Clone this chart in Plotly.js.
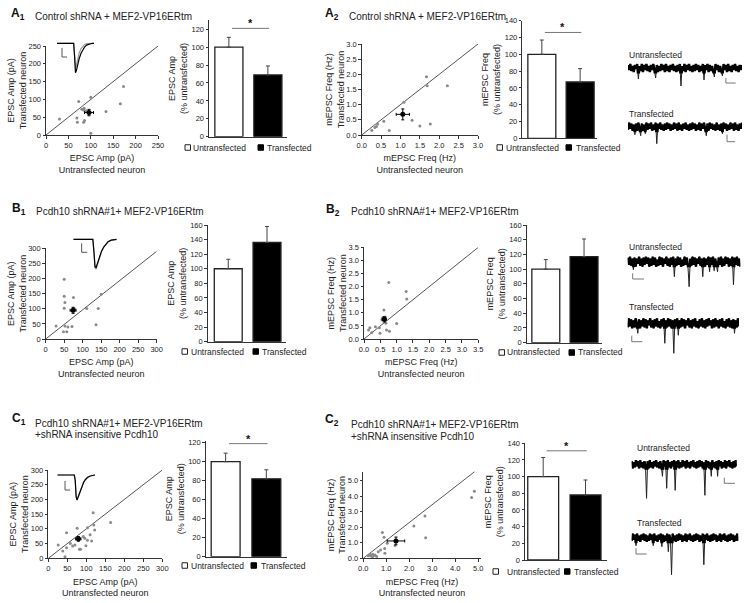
<!DOCTYPE html>
<html><head><meta charset="utf-8">
<script src="https://cdn.plot.ly/plotly-3.0.1.min.js"></script>
<style>html,body{margin:0;padding:0;background:#fff}#chart{width:751px;height:603px}</style>
</head><body><div id="chart"></div>
<script>
// ---------------- DATA ----------------
const barCats = ['Untransfected', 'Transfected'];

// Row A: Control shRNA + MEF2-VP16ERtm
const a1UntransAmp = [30, 73, 69, 70, 84, 84, 86, 80, 100, 100, 134, 166, 173, 85, 90];
const a1TransAmp   = [45, 94, 48, 36, 70, 36, 41, 72, 106, 5, 66, 88, 136, 75, 68];
const a1Mean = [96, 63], a1MeanErr = [10, 9];
const a1Diag = [[0, 250], [0, 250]];
const a1BarVals = [100, 69], a1BarErr = [11, 10], a1Sig = 121;

const a2UntransFreq = [0.26, 0.34, 0.41, 0.57, 0.71, 1.09, 1.30, 1.50, 1.67, 1.69, 1.77, 2.21, 0.38];
const a2TransFreq   = [0.16, 0.25, 0.36, 0.45, 0.15, 1.08, 0.49, 0.30, 1.92, 1.62, 0.36, 1.62, 0.28];
const a2Mean = [1.06, 0.68], a2MeanErr = [0.17, 0.18];
const a2Diag = [[0, 3], [0, 3]];
const a2BarVals = [100, 67], a2BarErr = [17, 16], a2Sig = 126;

// Row B: Pcdh10 shRNA#1 + MEF2-VP16ERtm
const b1UntransAmp = [28, 50, 50, 52, 50, 52, 48, 57, 71, 75, 77, 111, 136, 142, 150, 60];
const b1TransAmp   = [43, 198, 141, 121, 102, 43, 24, 24, 41, 137, 101, 101, 47, 101, 148, 40];
const b1Mean = [74, 95], b1MeanErr = [8, 10];
const b1Diag = [[0, 300], [0, 290]];
const b1BarVals = [100, 136], b1BarErr = [13, 22];

const b2UntransFreq = [0.14, 0.18, 0.24, 0.35, 0.47, 0.49, 0.55, 0.57, 0.61, 0.65, 0.67, 0.69, 0.76, 0.78, 1.00, 1.29, 1.31];
const b2TransFreq   = [0.34, 0.43, 0.25, 0.47, 0.43, 0.22, 0.73, 0.81, 1.11, 0.84, 0.60, 0.34, 2.16, 0.30, 0.59, 1.81, 1.53];
const b2Mean = [0.62, 0.75], b2MeanErr = [0.06, 0.10];
const b2Diag = [[0, 3.5], [0, 3.5]];
const b2BarVals = [100, 117], b2BarErr = [13, 24];

// Row C: Pcdh10 shRNA#1 + MEF2-VP16ERtm + shRNA insensitive Pcdh10
const c1UntransAmp = [26, 38, 48, 48, 44, 64, 76, 82, 85, 92, 96, 103, 99, 103, 110, 114, 118, 120, 122, 164, 58, 70];
const c1TransAmp   = [45, 25, 36, 87, 5, 42, 102, 31, 31, 74, 68, 61, 43, 104, 80, 59, 155, 113, 96, 122, 50, 45];
const c1Mean = [79, 66], c1MeanErr = [7, 8];
const c1Diag = [[0, 300], [0, 300]];
const c1BarVals = [100, 82], c1BarErr = [9, 9.5], c1Sig = 119;

const c2UntransFreq = [0.22, 0.29, 0.41, 0.51, 0.58, 0.65, 0.75, 0.83, 0.90, 0.93, 0.94, 1.04, 1.38, 2.20, 2.68, 2.71, 4.71, 4.83, 0.30, 0.35, 0.40, 0.45];
const c2TransFreq   = [0.17, 0.26, 0.26, 0.21, 0.11, 0.43, 0.54, 1.67, 1.35, 0.64, 0.32, 0.97, 0.82, 2.08, 2.73, 1.33, 3.93, 4.33, 0.20, 0.15, 0.10, 0.18];
const c2Mean = [1.42, 1.12], c2MeanErr = [0.38, 0.25];
const c2Diag = [[0, 4.85], [0, 5.6]];
const c2BarVals = [100, 78], c2BarErr = [23, 18], c2Sig = 131;

// Averaged EPSC insets (time ms, current pA)
const epscTime = [0, 4, 8, 12, 16, 18, 19, 20, 21, 22, 23, 24, 26, 28, 30, 32, 35, 38, 40];
const a1EpscUntrans = [0, 0, 0, 0, 0, 0, -45, -100, -92, -78, -64, -52, -34, -21, -12, -6, -2, 0, 0];
const a1EpscTrans   = [0, 0, 0, 0, 0, 0, -40, -85, -74, -58, -44, -33, -18, -9, -4, -1, 0, 0, 0];
const b1EpscUntrans = [0, 0, 0, 0, 0, 0, -40, -92, -95, -84, -70, -58, -40, -26, -15, -8, -3, -1, 0];
const b1EpscTrans   = [0, 0, 0, 0, 0, 0, -42, -96, -100, -88, -74, -61, -42, -27, -16, -9, -3, -1, 0];
const c1EpscUntrans = [0, 0, 0, 0, 0, 0, -20, -88, -100, -90, -76, -63, -44, -29, -18, -10, -4, -1, 0];
const c1EpscTrans   = [0, 0, 0, 0, 0, 0, -22, -86, -97, -87, -73, -60, -42, -27, -17, -9, -4, -1, 0];
const a1InsetBar = [[5.4, 5.4, 10.8], [-16, -46.6, -46.6]];
const b1InsetBar = [[7.7, 7.7, 12.9], [-13.5, -43.8, -43.8]];
const c1InsetBar = [[8.2, 8.2, 13.5], [-24, -60, -60]];

// mEPSC recordings (samples, pA)
const aRecUntrans = [3,-2,4,-3,2,-4,3,-1,4,-11, 2,-3,4,-4,3,-2,4,-3,2,-4, 3,-2,4,-3,-10,3,-4,2,-3,4, -2,3,-4,4,-3,2,-4,3,-2,4,
  -3,2,-4,3,-3,4,-18,2,-3,4, -4,3,-2,4,-3,2,-4,3,-3,4, -2,3,-4,2,-3,4,-12,3,-2,4, -4,3,-3,2,-4,-9,4,-2,3,-4, 2,-3,-8,4,-2,3,-4,4,-3,2, -4,3,-2,4,-3,2,-4,3,-2,3];
const aRecTrans = [-3,4,-2,3,-4,2,-8,3,-4,4, -2,-9,3,-4,2,-7,4,-3,3,-2, 4,-4,2,-3,4,-17,3,-2,4,-3, 2,-4,3,-3,4,-2,3,-4,2,-3,
  4,-2,3,-4,4,-3,2,-4,3,-2, 4,-3,2,-4,3,-3,4,-2,3,-4, 2,-3,4,-4,3,-2,4,-3,-9,3, -4,4,-2,3,-3,2,-4,4,-3,2, -4,3,-7,4,-2,3,-4,2,-3,4, -2,3,-4,4,-3,2,-4,3,-2,4];
const bRecUntrans = [4,-3,5,-4,3,-8,4,-5,3,-2, 5,-4,3,-5,4,-3,5,-2,4,-5, 3,-4,5,-3,4,-5,2,-4,5,-3, 4,-5,3,-2,5,-4,3,-5,4,-3,
  5,-15,3,-4,5,-3,4,-5,2,-4, 5,-3,4,-5,-25,3,-4,5,-3,4, -5,3,-2,5,-4,3,-15,4,-5,3, -3,5,-10,4,-3,5,-9,3,-4,-10, 4,-3,5,-5,3,-4,5,-2,4,-5, 3,-4,5,-23,4,-3,5,-4,3,-5];
const bRecTrans = [-4,5,-3,4,-5,3,-4,5,-2,-10, 4,-5,3,-3,5,-4,4,-5,3,-2, 5,-4,3,-5,4,-3,5,-4,2,-5, 4,-3,5,-20,3,-4,5,-3,4,-5,
  3,-30,4,-3,5,-12,3,-4,5,-3, 4,-5,3,-2,5,-4,3,-5,4,-3, 5,-4,2,-5,4,-3,5,-4,3,-5, 4,-3,5,-2,3,-5,4,-4,5,-3, 3,-5,4,-3,5,-4,2,-5,4,-3, 5,-4,3,-5,4,-10,3,-4,5,-3];
const cRecUntrans = [3,-4,2,-3,4,-2,3,-4,4,-3, 2,-4,3,-2,-34,3,-4,4,-3,2, -4,3,-2,4,-3,2,-4,3,-3,-12, 4,-2,3,-24,4,-3,2,-4,3,-2,
  4,-26,3,-3,4,-4,2,-3,4,-2, 3,-4,4,-3,2,-4,3,-2,4,-3, 2,-4,3,-3,4,-2,3,-4,2,-31, 4,-3,3,-4,2,-12,4,-3,2,-4, 3,-12,4,-2,3,-4,2,-3,4,-4, 3,-2,4,-3,2,-4,3,-3,4,-2];
const cRecTrans = [-3,4,-2,3,-8,4,-3,2,-4,3, -2,4,-3,3,-4,2,-3,4,-2,3, -8,4,-3,2,-4,3,-2,4,-9,3, -4,2,-3,4,-14,3,-2,-37,4,-3,
  2,-4,3,-3,4,-2,3,-4,2,-3, 4,-4,3,-2,4,-3,2,-4,3,-3, 4,-2,3,-4,2,-3,4,-27,3,-2, 4,-3,2,-4,3,-3,4,-2,3,-4, 2,-3,4,-4,3,-2,4,-3,2,-4, 3,-3,4,-2,3,-4,2,-3,4,-3];
const aRecUntransBar = [[85, 85, 93.5], [-10, -15, -15]];
const aRecTransBar   = [[86, 86, 93], [-8, -15, -15]];
const bRecUntransBar = [[4.4, 4.4, 14.3], [-11.6, -17.3, -17.3]];
const bRecTransBar   = [[3.6, 3.6, 13], [-12.4, -18.4, -18.4]];
const cRecUntransBar = [[87.3, 87.3, 97.4], [-13.4, -19, -19]];
const cRecTransBar   = [[4, 4, 13.9], [-10.6, -16.3, -16.3]];

// ---------------- BUILD ----------------
const W = 751, H = 603, F = 'Liberation Sans, Arial, sans-serif';
const data = [];
const layout = {width: W, height: H, margin: {l: 0, r: 0, t: 0, b: 0}, paper_bgcolor: '#fff', plot_bgcolor: 'rgba(0,0,0,0)',
  showlegend: false, shapes: [], annotations: [], font: {family: F, color: '#222'}};
let n = 0;
function axes(xd, yd, xo, yo) {
  n++; const s = n === 1 ? '' : String(n);
  layout['xaxis' + s] = Object.assign({domain: [xd[0] / W, xd[1] / W], anchor: 'y' + s}, xo);
  layout['yaxis' + s] = Object.assign({domain: [1 - yd[1] / H, 1 - yd[0] / H], anchor: 'x' + s}, yo);
  return {x: 'x' + s, y: 'y' + s};
}
function vis(extra) {
  return Object.assign({showgrid: false, zeroline: false, showline: true, linecolor: '#333', linewidth: 1, ticks: 'outside',
    ticklen: 2.5, tickwidth: 1, tickcolor: '#333', tickfont: {family: F, size: 7.5, color: '#222'}, fixedrange: true}, extra);
}
function hid(extra) { return Object.assign({visible: false, fixedrange: true}, extra); }
function ann(text, x, y, o) {
  layout.annotations.push(Object.assign({xref: 'paper', yref: 'paper', x: x / W, y: 1 - y / H, xanchor: 'left', yanchor: 'middle',
    showarrow: false, text: text, borderpad: 0, font: {family: F, size: 9, color: '#222'}}, o || {}));
}

function scatterPanel(p) {
  const a = axes(p.xd, p.yd,
    vis({range: p.xr, dtick: p.dt, tick0: 0, tickformat: p.tf, title: {text: p.xt, font: {size: 9}, standoff: 6}}),
    vis({range: p.yr, dtick: p.dt, tick0: 0, tickformat: p.tf, title: {text: p.yt, font: {size: 9}, standoff: 0}}));
  data.push({type: 'scatter', mode: 'lines', x: p.diag[0], y: p.diag[1], xaxis: a.x, yaxis: a.y, line: {color: '#555', width: 1}, hoverinfo: 'skip'});
  data.push({type: 'scatter', mode: 'markers', x: p.px, y: p.py, xaxis: a.x, yaxis: a.y, marker: {size: 3, color: '#8a8a8a'}, cliponaxis: false});
  data.push({type: 'scatter', mode: 'markers', x: [p.m[0]], y: [p.m[1]], xaxis: a.x, yaxis: a.y, marker: {size: 5, color: '#000'},
    error_x: {type: 'data', array: [p.e[0]], color: '#000', thickness: 1, width: 1.5},
    error_y: {type: 'data', array: [p.e[1]], color: '#000', thickness: 1, width: 1.5}});
}
function barPanel(p) {
  const a = axes(p.xd, p.yd,
    vis({range: p.xr, showticklabels: false, ticks: '', type: 'category'}),
    vis({range: p.yr, dtick: 20, tick0: 0, title: {text: p.yt, font: {size: 9}, standoff: 2}}));
  data.push({type: 'bar', x: barCats, y: p.v, width: p.w, xaxis: a.x, yaxis: a.y,
    marker: {color: ['#ffffff', '#000000'], line: {color: '#222', width: 1.3}},
    error_y: {type: 'data', symmetric: false, array: p.e, arrayminus: [0, 0], color: '#444', thickness: 1, width: 2}});
  if (p.sig) {
    layout.shapes.push({type: 'line', xref: a.x, yref: a.y, x0: 0.08, x1: 1.03, y0: p.sig, y1: p.sig, line: {color: '#777', width: 1}});
    layout.annotations.push({xref: a.x, yref: a.y, x: 0.55, y: p.sig, yanchor: 'bottom', showarrow: false, text: '<b>*</b>', yshift: -3,
      font: {family: F, size: 11, color: '#111'}});
  }
  // legend
  const L = p.leg;
  layout.shapes.push({type: 'rect', xref: 'paper', yref: 'paper', x0: L[0] / W, x1: (L[0] + 5.5) / W, y0: 1 - (L[4] + 2.75) / H, y1: 1 - (L[4] - 2.75) / H, line: {color: '#222', width: 1}, fillcolor: '#fff'});
  layout.shapes.push({type: 'rect', xref: 'paper', yref: 'paper', x0: L[2] / W, x1: (L[2] + 5.5) / W, y0: 1 - (L[4] + 2.75) / H, y1: 1 - (L[4] - 2.75) / H, line: {color: '#000', width: 1}, fillcolor: '#000'});
  ann(barCats[0], L[1], L[4], {font: {family: F, size: 8.5, color: '#222'}});
  ann(barCats[1], L[3], L[4], {font: {family: F, size: 8.5, color: '#222'}});
}
function insetPanel(p) {
  const a = axes(p.xd, p.yd, hid({range: [0, 40]}), hid({range: p.yr}));
  data.push({type: 'scatter', mode: 'lines', x: epscTime, y: p.tr, xaxis: a.x, yaxis: a.y, line: {color: '#9a9a9a', width: 1.2}, hoverinfo: 'skip'});
  data.push({type: 'scatter', mode: 'lines', x: epscTime, y: p.un, xaxis: a.x, yaxis: a.y, line: {color: '#000', width: 1.2}, hoverinfo: 'skip'});
  data.push({type: 'scatter', mode: 'lines', x: p.sb[0], y: p.sb[1], xaxis: a.x, yaxis: a.y, line: {color: '#555', width: 1}, hoverinfo: 'skip'});
}
function recPanel(p) {
  const xs = p.v.map((_, i) => i);
  // full-scale thin trace (shows the spikes)
  const a = axes(p.xd, [p.c - 14, p.c + 44], hid({range: [0, p.v.length - 1]}), hid({range: [-44, 14]}));
  data.push({type: 'scatter', mode: 'lines', x: xs, y: p.v, xaxis: a.x, yaxis: a.y, line: {color: '#222', width: 1}, hoverinfo: 'skip'});
  data.push({type: 'scatter', mode: 'lines', x: p.sb[0], y: p.sb[1], xaxis: a.x, yaxis: a.y, line: {color: '#777', width: 1}, hoverinfo: 'skip'});
  // same trace, same scale, clipped to the noise band and drawn thick (dense baseline noise)
  const b = axes(p.xd, [p.c - 5.5, p.c + 5.5], hid({range: [0, p.v.length - 1]}), hid({range: [-5.5, 5.5]}));
  data.push({type: 'scatter', mode: 'lines', x: xs, y: p.v, xaxis: b.x, yaxis: b.y, line: {color: '#000', width: 2.4}, hoverinfo: 'skip'});
  ann(p.label, p.lx, p.ly, {font: {family: F, size: 8.5, color: '#222'}});
}

const ampX = 'EPSC Amp (pA)<br>Untransfected neuron', ampY = 'EPSC Amp (pA)<br>Transfected neuron';
const frqX = 'mEPSC Freq (Hz)<br>Untransfected neuron', frqY = 'mEPSC Freq (Hz)<br>Transfected neuron';
const ampB = 'EPSC Amp<br>(% untransfected)', frqB = 'mEPSC Freq<br>(% untransfected)';

// Row A
scatterPanel({xd: [46, 158], yd: [46, 135], xr: [0, 250], yr: [0, 250], dt: 50, xt: ampX, yt: ampY, diag: a1Diag, px: a1UntransAmp, py: a1TransAmp, m: a1Mean, e: a1MeanErr});
insetPanel({xd: [57, 94], yd: [42, 74], yr: [-104.4, 4.4], un: a1EpscUntrans, tr: a1EpscTrans, sb: a1InsetBar});
barPanel({xd: [209, 287], yd: [20.3, 136.7], xr: [-0.51, 1.49], yr: [0, 130], w: 0.72, v: a1BarVals, e: a1BarErr, sig: a1Sig, yt: ampB, leg: [185, 192, 258, 266, 147.5]});
scatterPanel({xd: [361.7, 478], yd: [44, 135], xr: [0, 3], yr: [0, 3], dt: 0.5, tf: '.1f', xt: frqX, yt: frqY, diag: a2Diag, px: a2UntransFreq, py: a2TransFreq, m: a2Mean, e: a2MeanErr});
barPanel({xd: [522.3, 597], yd: [20.7, 138.3], xr: [-0.51, 1.44], yr: [0, 140], w: 0.73, v: a2BarVals, e: a2BarErr, sig: a2Sig, yt: frqB, leg: [497, 505, 566, 575, 147.5]});
recPanel({xd: [628, 742], c: 68, v: aRecUntrans, sb: aRecUntransBar, label: 'Untransfected', lx: 628, ly: 55});
recPanel({xd: [628, 742], c: 126.7, v: aRecTrans, sb: aRecTransBar, label: 'Transfected', lx: 628, ly: 114});

// Row B
scatterPanel({xd: [45.7, 156.7], yd: [248.3, 339], xr: [0, 300], yr: [0, 300], dt: 50, xt: ampX, yt: ampY, diag: b1Diag, px: b1UntransAmp, py: b1TransAmp, m: b1Mean, e: b1MeanErr});
insetPanel({xd: [73.3, 116.7], yd: [237, 271], yr: [-106.7, 7.7], un: b1EpscUntrans, tr: b1EpscTrans, sb: b1InsetBar});
barPanel({xd: [207.7, 286], yd: [225, 341.7], xr: [-0.53, 1.49], yr: [0, 160], w: 0.72, v: b1BarVals, e: b1BarErr, yt: ampB, leg: [182, 190.5, 253, 260.5, 351.5]});
scatterPanel({xd: [364, 478.3], yd: [247.3, 339], xr: [0, 3.5], yr: [0, 3.5], dt: 0.5, tf: '.1f', xt: frqX, yt: frqY, diag: b2Diag, px: b2UntransFreq, py: b2TransFreq, m: b2Mean, e: b2MeanErr});
barPanel({xd: [526.7, 602], yd: [225, 342.7], xr: [-0.5, 1.47], yr: [0, 160], w: 0.73, v: b2BarVals, e: b2BarErr, yt: frqB, leg: [499, 506, 569, 576.5, 352.5]});
recPanel({xd: [627.7, 740.3], c: 261.7, v: bRecUntrans, sb: bRecUntransBar, label: 'Untransfected', lx: 628, ly: 246.7});
recPanel({xd: [627.7, 739], c: 323.3, v: bRecTrans, sb: bRecTransBar, label: 'Transfected', lx: 628, ly: 307});

// Row C
scatterPanel({xd: [48.3, 162.3], yd: [470, 558.3], xr: [0, 300], yr: [0, 300], dt: 50, xt: ampX, yt: ampY, diag: c1Diag, px: c1UntransAmp, py: c1TransAmp, m: c1Mean, e: c1MeanErr});
insetPanel({xd: [57.3, 95], yd: [473, 502], yr: [-108, 8], un: c1EpscUntrans, tr: c1EpscTrans, sb: c1InsetBar});
barPanel({xd: [205.7, 286.7], yd: [440.8, 556.7], xr: [-0.49, 1.5], yr: [0, 122], w: 0.71, v: c1BarVals, e: c1BarErr, sig: c1Sig, yt: ampB, leg: [182, 190, 251, 259.5, 565.5]});
scatterPanel({xd: [363.3, 480.6], yd: [471.5, 558.3], xr: [0, 5.1], yr: [0, 5.6], dt: 1, tf: '.1f', xt: frqX, yt: frqY, diag: c2Diag, px: c2UntransFreq, py: c2TransFreq, m: c2Mean, e: c2MeanErr});
barPanel({xd: [525, 606.7], yd: [443.3, 560], xr: [-0.43, 1.5], yr: [0, 140], w: 0.73, v: c2BarVals, e: c2BarErr, sig: c2Sig, yt: frqB, leg: [493, 506, 564.5, 572.5, 571.5]});
recPanel({xd: [631.7, 736.7], c: 464.3, v: cRecUntrans, sb: cRecUntransBar, label: 'Untransfected', lx: 636, ly: 448.3});
recPanel({xd: [631.7, 738.3], c: 537.7, v: cRecTrans, sb: cRecTransBar, label: 'Transfected', lx: 636, ly: 523.3});

// Panel labels and titles
const lab = {family: F, size: 12, color: '#111'};
const tf = {family: F, size: 10, color: '#222'};
ann('<b>A<sub>1</sub></b>', 10, 14, {font: lab});
ann('<b>A<sub>2</sub></b>', 324, 14, {font: lab});
ann('<b>B<sub>1</sub></b>', 11, 209, {font: lab});
ann('<b>B<sub>2</sub></b>', 325, 210, {font: lab});
ann('<b>C<sub>1</sub></b>', 11, 419, {font: lab});
ann('<b>C<sub>2</sub></b>', 324, 420, {font: lab});
ann('Control shRNA + MEF2-VP16ERtm', 34, 17, {font: tf});
ann('Control shRNA + MEF2-VP16ERtm', 348, 17, {font: tf});
ann('Pcdh10 shRNA#1+ MEF2-VP16ERtm', 35, 212, {font: tf});
ann('Pcdh10 shRNA#1+ MEF2-VP16ERtm', 350, 212, {font: tf});
ann('Pcdh10 shRNA#1+ MEF2-VP16ERtm', 34, 423, {font: tf});
ann('+shRNA insensitive Pcdh10', 34, 434, {font: tf});
ann('Pcdh10 shRNA#1+ MEF2-VP16ERtm', 350, 424, {font: tf});
ann('+shRNA insensitive Pcdh10', 350, 436, {font: tf});

Plotly.newPlot('chart', data, layout, {staticPlot: true, displayModeBar: false});
</script></body></html>
